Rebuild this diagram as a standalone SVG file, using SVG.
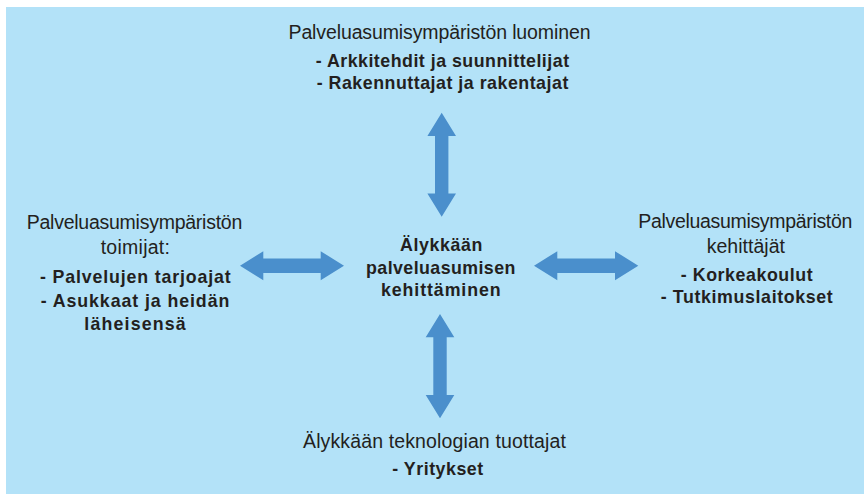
<svg xmlns="http://www.w3.org/2000/svg" width="864" height="494" viewBox="0 0 864 494">
<style>
.bg{fill:#b3e2f8}
.arr{fill:#4a8fcc}
.reg{font-family:"Liberation Sans",Arial,sans-serif;font-size:19.5px;fill:#231f20;text-anchor:middle}
.bold{font-family:"Liberation Sans",Arial,sans-serif;font-size:17.8px;font-weight:bold;fill:#231f20;text-anchor:middle}
</style>
<rect class="bg" x="6" y="7" width="858" height="487"/>
<g id="connectors">
<polygon class="arr" points="441.7,112.7 456,136 448.4,136 448.4,193.4 456,193.4 441.7,216.7 427.4,193.4 435,193.4 435,136 427.4,136"/>
<polygon class="arr" points="440,314 454.3,337.3 446.7,337.3 446.7,395 454.3,395 440,418.3 425.7,395 433.3,395 433.3,337.3 425.7,337.3"/>
<polygon class="arr" points="240,265.7 263.3,251.2 263.3,258.5 320.7,258.5 320.7,251.2 344,265.7 320.7,280.2 320.7,272.9 263.3,272.9 263.3,280.2"/>
<polygon class="arr" points="534,265.7 557.3,251.2 557.3,258.5 615,258.5 615,251.2 638.3,265.7 615,280.2 615,272.9 557.3,272.9 557.3,280.2"/>
</g>
<g id="center">
<text class="bold" x="441.2" y="251" textLength="82.3" lengthAdjust="spacing">Älykkään</text>
<text class="bold" x="440.7" y="274" textLength="149.3" lengthAdjust="spacing">palveluasumisen</text>
<text class="bold" x="440.8" y="296" textLength="119.7" lengthAdjust="spacing">kehittäminen</text>
</g>
<g id="top">
<text class="reg" x="439.5" y="39" textLength="302" lengthAdjust="spacing">Palveluasumisympäristön luominen</text>
<text class="bold" x="442.4" y="66.7" textLength="253.3" lengthAdjust="spacing">- Arkkitehdit ja suunnittelijat</text>
<text class="bold" x="442.5" y="88.7" textLength="251.6" lengthAdjust="spacing">- Rakennuttajat ja rakentajat</text>
</g>
<g id="left">
<text class="reg" x="134.5" y="229.3" textLength="215.6" lengthAdjust="spacing">Palveluasumisympäristön</text>
<text class="reg" x="135.3" y="254" textLength="69.3" lengthAdjust="spacing">toimijat:</text>
<text class="bold" x="135.3" y="283.3" textLength="190.7" lengthAdjust="spacing">- Palvelujen tarjoajat</text>
<text class="bold" x="135" y="306.5" textLength="188.6" lengthAdjust="spacing">- Asukkaat ja heidän</text>
<text class="bold" x="135" y="330" textLength="101.4" lengthAdjust="spacing">läheisensä</text>
</g>
<g id="right">
<text class="reg" x="745.3" y="228.3" textLength="214" lengthAdjust="spacing">Palveluasumisympäristön</text>
<text class="reg" x="745.8" y="253.3" textLength="78.3" lengthAdjust="spacing">kehittäjät</text>
<text class="bold" x="746.7" y="280.7" textLength="132" lengthAdjust="spacing">- Korkeakoulut</text>
<text class="bold" x="746.7" y="303.3" textLength="172" lengthAdjust="spacing">- Tutkimuslaitokset</text>
</g>
<g id="bottom">
<text class="reg" x="434.4" y="448.3" textLength="262.8" lengthAdjust="spacing">Älykkään teknologian tuottajat</text>
<text class="bold" x="437.7" y="475" textLength="91" lengthAdjust="spacing">- Yritykset</text>
</g>
</svg>
